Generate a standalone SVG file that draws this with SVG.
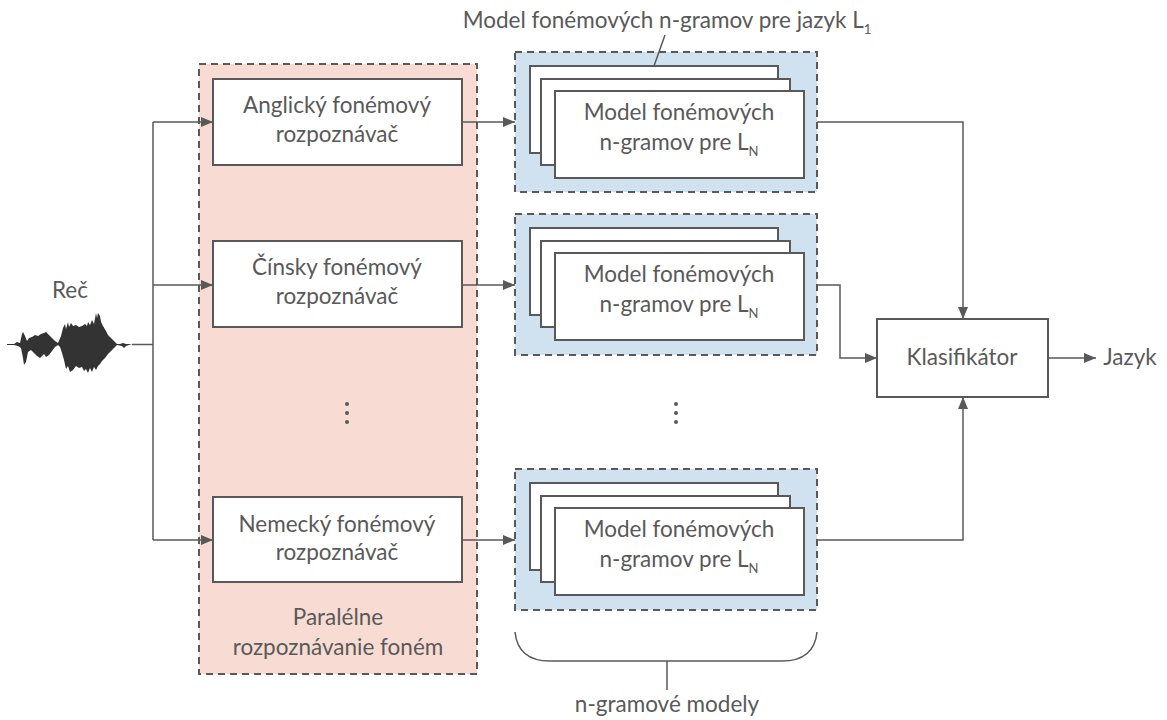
<svg xmlns="http://www.w3.org/2000/svg" width="1167" height="720" viewBox="0 0 1167 720">
<defs>
<style>
.t{font-family:Lato,"Open Sans","Liberation Sans",sans-serif;font-size:22.5px;fill:#595959;text-anchor:middle}
.box{fill:#fff;stroke:#595959;stroke-width:2}
.pink{fill:#f8dcd4;stroke:#595959;stroke-width:2;stroke-dasharray:7,5}
.blue{fill:#d0e2ef;stroke:#595959;stroke-width:2;stroke-dasharray:7,5}
.ln{fill:none;stroke:#595959;stroke-width:1.5}
.dot{fill:#595959}
</style>
<marker id="ah" markerWidth="12" markerHeight="10" refX="12" refY="5" orient="auto" markerUnits="userSpaceOnUse">
<path d="M0,0 L12,5 L0,10 Z" fill="#595959"/>
</marker>
</defs>
<rect width="1167" height="720" fill="#fff"/>

<g id="speech">
<text class="t" x="70" y="298">Reč</text>
<path fill="#333" d="M7,344 L14,344 L17,342 L20,343 L22,334 L23,332 L25,336 L27,341 L29,338 L32,337 L35,335 L38,336 L41,334 L44,333 L46,332 L49,335 L52,338 L55,341 L58,343 L61,336 L63,328 L65,324 L66,329 L68,322 L69,327 L71,323 L73,326 L76,325 L79,327 L82,326 L85,324 L87,326 L88,322 L90,325 L92,320 L94,324 L96,313 L97,318 L98,313 L100,316 L101,322 L103,326 L106,331 L108,335 L111,338 L114,341 L117,344 L120,344 L123,343 L126,344 L132,344 L126,346 L124,348 L122,346 L117,345 L114,348 L111,351 L108,354 L105,358 L102,361 L100,364 L98,366 L96,370 L94,367 L92,372 L90,368 L88,373 L86,369 L84,371 L82,367 L79,368 L76,366 L73,370 L70,372 L68,366 L66,369 L64,360 L62,353 L60,347 L58,345 L55,347 L52,351 L49,355 L46,357 L44,354 L40,358 L37,356 L34,353 L31,350 L28,352 L26,362 L24,365 L23,358 L21,348 L18,346 L14,345 L7,345 Z"/>
</g>

<g id="parallel">
<rect class="pink" x="199" y="64" width="278" height="610"/>
<text class="t" x="338" y="625">Paralélne</text>
<text class="t" x="338" y="655">rozpoznávanie foném</text>
<circle class="dot" cx="347" cy="404" r="2"/>
<circle class="dot" cx="347" cy="413" r="2"/>
<circle class="dot" cx="347" cy="422" r="2"/>
</g>

<g id="rec-en">
<rect class="box" x="213" y="79" width="249" height="86"/>
<text class="t" x="337" y="113">Anglický fonémový</text>
<text class="t" x="337" y="142">rozpoznávač</text>
</g>
<g id="rec-zh">
<rect class="box" x="213" y="241" width="249" height="86"/>
<text class="t" x="337" y="275">Čínsky fonémový</text>
<text class="t" x="337" y="304">rozpoznávač</text>
</g>
<g id="rec-de">
<rect class="box" x="213" y="497" width="249" height="85"/>
<text class="t" x="337" y="532">Nemecký fonémový</text>
<text class="t" x="337" y="560">rozpoznávač</text>
</g>

<g id="ngram-1">
<rect class="blue" x="515" y="52" width="302" height="140"/>
<rect class="box" x="530" y="66" width="248" height="87"/>
<rect class="box" x="541" y="79" width="249" height="86"/>
<rect class="box" x="555" y="91" width="249" height="87"/>
<text class="t" x="679" y="120">Model fonémových</text>
<text class="t" x="679" y="150">n-gramov pre L<tspan font-size="13" dy="6">N</tspan></text>
</g>
<g id="ngram-2">
<rect class="blue" x="515" y="214" width="302" height="141"/>
<rect class="box" x="530" y="228" width="248" height="87"/>
<rect class="box" x="541" y="241" width="249" height="86"/>
<rect class="box" x="555" y="253" width="249" height="87"/>
<text class="t" x="679" y="282">Model fonémových</text>
<text class="t" x="679" y="312">n-gramov pre L<tspan font-size="13" dy="6">N</tspan></text>
</g>
<g id="ngram-3">
<rect class="blue" x="515" y="469" width="302" height="141"/>
<rect class="box" x="530" y="483" width="248" height="87"/>
<rect class="box" x="541" y="496" width="249" height="86"/>
<rect class="box" x="555" y="508" width="249" height="87"/>
<text class="t" x="679" y="537">Model fonémových</text>
<text class="t" x="679" y="567">n-gramov pre L<tspan font-size="13" dy="6">N</tspan></text>
</g>
<g id="dots-ngram">
<circle class="dot" cx="676" cy="404" r="2"/>
<circle class="dot" cx="676" cy="413" r="2"/>
<circle class="dot" cx="676" cy="422" r="2"/>
</g>

<g id="title">
<text class="t" x="667" y="28">Model fonémových n-gramov pre jazyk L<tspan font-size="13" dy="6">1</tspan></text>
<line class="ln" x1="654" y1="66" x2="665" y2="35"/>
</g>

<g id="brace">
<path class="ln" d="M515,632 C517,652 530,661 550,661 L782,661 C802,661 815,652 817,632 M667,661 L667,690"/>
<text class="t" x="667" y="712">n-gramové modely</text>
</g>

<g id="classifier">
<rect class="box" x="877" y="319" width="171" height="78"/>
<text class="t" x="962" y="365">Klasifikátor</text>
<text class="t" x="1130" y="365">Jazyk</text>
</g>

<g id="connectors">
<path class="ln" d="M132,344.5 L153,344.5 M153,122 L153,540"/>
<path class="ln" d="M153,122 L213,122" marker-end="url(#ah)"/>
<path class="ln" d="M153,285 L213,285" marker-end="url(#ah)"/>
<path class="ln" d="M153,540 L213,540" marker-end="url(#ah)"/>
<path class="ln" d="M462,122 L515,122" marker-end="url(#ah)"/>
<path class="ln" d="M462,285 L515,285" marker-end="url(#ah)"/>
<path class="ln" d="M462,540 L515,540" marker-end="url(#ah)"/>
<path class="ln" d="M817,122 L963,122 L963,319" marker-end="url(#ah)"/>
<path class="ln" d="M817,285 L840,285 L840,358 L877,358" marker-end="url(#ah)"/>
<path class="ln" d="M817,540 L963,540 L963,397" marker-end="url(#ah)"/>
<path class="ln" d="M1048,358 L1096,358" marker-end="url(#ah)"/>
</g>
</svg>
